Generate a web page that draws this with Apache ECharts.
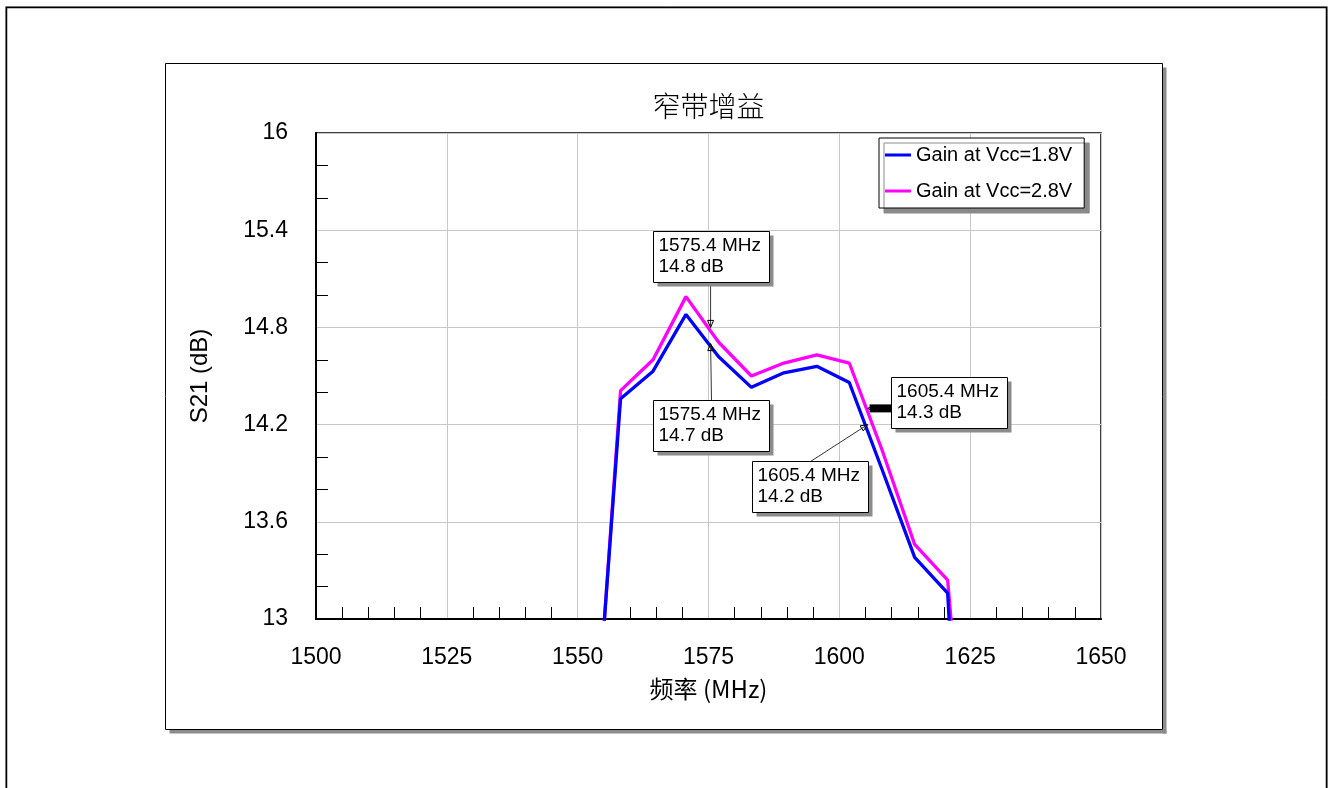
<!DOCTYPE html>
<html>
<head>
<meta charset="utf-8">
<script src="https://cdn.jsdelivr.net/npm/echarts@6/dist/echarts.min.js"></script>
<style>
  html, body { margin: 0; padding: 0; background: #fff; }
  #chart { width: 1334px; height: 788px; }
</style>
</head>
<body>
<div id="chart"></div>
<script>
// Measured S21 gain of the narrow-band LNA at two supply voltages
const freqMHz = [1551.9, 1558.2, 1564.4, 1570.7, 1576.9, 1583.2, 1589.4, 1595.7, 1601.9, 1608.2, 1614.4, 1620.7, 1626.9];
const gain18V = [11.58, 14.36, 14.53, 14.88, 14.62, 14.43, 14.52, 14.56, 14.46, 13.92, 13.38, 13.16, 9.5];
const gain28V = [11.53, 14.41, 14.60, 14.99, 14.71, 14.50, 14.58, 14.63, 14.58, 14.04, 13.46, 13.24, 10.9];
const seriesNames = ['Gain at Vcc=1.8V', 'Gain at Vcc=2.8V'];

// Axis tick labels
const xTicks = ['1500', '1525', '1550', '1575', '1600', '1625', '1650'];
const yTicks = ['13', '13.6', '14.2', '14.8', '15.4', '16'];

// Marker read-outs: frequency, gain, and which trace they sit on
const markerFreq = [1575.4, 1575.4, 1605.4, 1605.4];
const markerGain = [14.8, 14.7, 14.3, 14.2];
const markerTrace = [1, 0, 1, 0];

const FONT = '"Liberation Sans", Arial, "Noto Sans CJK SC", sans-serif';
const CJK_FONT = '"Noto Sans CJK SC", "Liberation Sans", sans-serif';
const colors = ['#0000ff', '#ff00ff'];
const traces = [gain18V, gain28V];

const chart = echarts.init(document.getElementById('chart'), null, { renderer: 'canvas' });

const tickText = list => v => {
  const hit = list.find(t => Math.abs(parseFloat(t) - v) < 1e-6);
  return hit !== undefined ? hit : '';
};
const xMin = parseFloat(xTicks[0]), xMax = parseFloat(xTicks[xTicks.length - 1]);
const yMin = parseFloat(yTicks[0]), yMax = parseFloat(yTicks[yTicks.length - 1]);

chart.setOption({
  animation: false,
  backgroundColor: '#fff',
  grid: {
    left: 316, right: 233, top: 133, bottom: 169,
    show: true, borderColor: '#000', borderWidth: 1.5,
    backgroundColor: 'transparent'
  },
  legend: {
    orient: 'vertical',
    left: 879, top: 138,
    data: seriesNames,
    icon: 'rect',
    itemWidth: 26, itemHeight: 3, itemGap: 14,
    padding: [6, 12, 6, 6],
    backgroundColor: '#fff', borderColor: '#000', borderWidth: 1,
    shadowColor: '#8a8a8a', shadowBlur: 0, shadowOffsetX: 5, shadowOffsetY: 5,
    textStyle: { fontSize: 20, color: '#000', fontFamily: FONT, lineHeight: 22 }
  },
  xAxis: {
    type: 'value',
    min: xMin, max: xMax, interval: parseFloat(xTicks[1]) - xMin,
    name: '频率 (MHz)', nameLocation: 'middle', nameGap: 58,
    nameTextStyle: { fontSize: 24, color: '#000', fontFamily: CJK_FONT },
    axisLine: { lineStyle: { color: '#000', width: 2 } },
    axisTick: { show: false, inside: true },
    minorTick: { show: true, splitNumber: 5, length: 12, lineStyle: { color: '#000', width: 1 } },
    splitLine: { show: true, lineStyle: { color: '#c8c8c8', width: 1 } },
    axisLabel: { fontSize: 23, color: '#000', fontFamily: FONT, margin: 27,
                 formatter: tickText(xTicks), showMinLabel: true, showMaxLabel: true }
  },
  yAxis: {
    type: 'value',
    min: yMin, max: yMax, interval: 0.6,
    name: 'S21 (dB)', nameLocation: 'middle', nameGap: 104, nameRotate: 90,
    nameTextStyle: { fontSize: 24, color: '#000', fontFamily: FONT },
    axisLine: { show: true, lineStyle: { color: '#000', width: 2 } },
    axisTick: { show: false, inside: true },
    minorTick: { show: true, splitNumber: 3, length: 12, lineStyle: { color: '#000', width: 1 } },
    splitLine: { show: true, lineStyle: { color: '#c8c8c8', width: 1 } },
    axisLabel: { fontSize: 23, color: '#000', fontFamily: FONT, margin: 28,
                 formatter: tickText(yTicks), showMinLabel: true, showMaxLabel: true }
  },
  series: traces.map((g, i) => ({
    type: 'line',
    name: seriesNames[i],
    data: freqMHz.map((f, k) => [f, g[k]]),
    symbol: 'none',
    clip: true,
    z: i === 0 ? 4 : 3,
    color: colors[i],
    lineStyle: { color: colors[i], width: 3.3 },
    itemStyle: { color: colors[i] }
  }))
});

// ---- frames, title and marker call-outs ----
const gridRect = chart.getModel().getComponent('grid').coordinateSystem.getRect();
const graphics = [];

// outer page frame
graphics.push({ type: 'rect', z: -5, silent: true,
  shape: { x: 5.5, y: 6.5, width: 1322, height: 800 },
  style: { fill: 'none', stroke: '#9a9a9a', lineWidth: 1 } });
graphics.push({ type: 'rect', z: -5, silent: true,
  shape: { x: 6.5, y: 7.5, width: 1320, height: 800 },
  style: { fill: 'none', stroke: '#000', lineWidth: 1.5 } });

// chart panel with drop shadow
const panel = { x: 165.5, y: 63.5, w: 997, h: 666 };
graphics.push({ type: 'rect', z: -5, silent: true,
  shape: { x: panel.x + panel.w, y: panel.y + 4, width: 4, height: panel.h },
  style: { fill: '#8c8c8c' } });
graphics.push({ type: 'rect', z: -5, silent: true,
  shape: { x: panel.x + 4, y: panel.y + panel.h, width: panel.w, height: 4 },
  style: { fill: '#8c8c8c' } });
graphics.push({ type: 'rect', z: -4, silent: true,
  shape: { x: panel.x, y: panel.y, width: panel.w, height: panel.h },
  style: { fill: 'none', stroke: '#000', lineWidth: 1 } });

// chart title
graphics.push({ type: 'text', z: 10, silent: true,
  x: gridRect.x + gridRect.width / 2, y: 106,
  style: { text: '窄带增益', fontSize: 28, fontWeight: 300, fontFamily: CJK_FONT, fill: '#000',
           align: 'center', verticalAlign: 'middle' } });

// call-out boxes: offset of the box from the marked point, and leader style
const BOX_W = 116, BOX_H = 51;
const boxOffset = [[-58, -96], [-58, 56], [23, -31], [-116, 36]];
const leaderFrom = ['bottom', 'top', 'bar', 'top'];

function arrowHead(x0, y0, x1, y1) {
  const dx = x1 - x0, dy = y1 - y0;
  const len = Math.hypot(dx, dy) || 1;
  const ux = dx / len, uy = dy / len;
  const nx = -uy, ny = ux;
  const L = 7, W = 3;
  return [[x1, y1], [x1 - ux * L + nx * W, y1 - uy * L + ny * W], [x1 - ux * L - nx * W, y1 - uy * L - ny * W]];
}

markerFreq.forEach((f, i) => {
  const g = markerGain[i];
  const [px, py] = chart.convertToPixel({ gridIndex: 0 }, [f, g]);
  const bx = Math.round(px + boxOffset[i][0]) + 0.5;
  const by = Math.round(py + boxOffset[i][1]) + 0.5;

  let sx, sy;
  if (leaderFrom[i] === 'bottom') { sx = px; sy = by + BOX_H; }
  else if (leaderFrom[i] === 'top') { sx = bx + BOX_W / 2; sy = by; }
  else { sx = bx; sy = py; }

  if (leaderFrom[i] === 'bar') {
    graphics.push({ type: 'line', z: 20, silent: true,
      shape: { x1: sx, y1: sy, x2: px + 2, y2: py },
      style: { stroke: '#000', lineWidth: 8 } });
  } else {
    graphics.push({ type: 'line', z: 20, silent: true,
      shape: { x1: sx, y1: sy, x2: px, y2: py },
      style: { stroke: '#333', lineWidth: 1 } });
  }
  graphics.push({ type: 'polygon', z: 21, silent: true,
    shape: { points: arrowHead(sx, sy, px, py) },
    style: { fill: 'none', stroke: '#000', lineWidth: 1 } });

  // box shadow, box and read-out text
  graphics.push({ type: 'rect', z: 22, silent: true,
    shape: { x: bx + 4, y: by + 4, width: BOX_W, height: BOX_H },
    style: { fill: '#8c8c8c' } });
  graphics.push({ type: 'rect', z: 23, silent: true,
    shape: { x: bx, y: by, width: BOX_W, height: BOX_H },
    style: { fill: '#fff', stroke: '#000', lineWidth: 1 } });
  graphics.push({ type: 'text', z: 24, silent: true,
    x: bx + 5, y: by + 4,
    style: { text: f.toFixed(1) + ' MHz\n' + g.toFixed(1) + ' dB',
             fontSize: 19, lineHeight: 21, fontFamily: FONT, fill: '#000',
             align: 'left', verticalAlign: 'top' } });
});

chart.setOption({ graphic: graphics });
</script>
</body>
</html>
